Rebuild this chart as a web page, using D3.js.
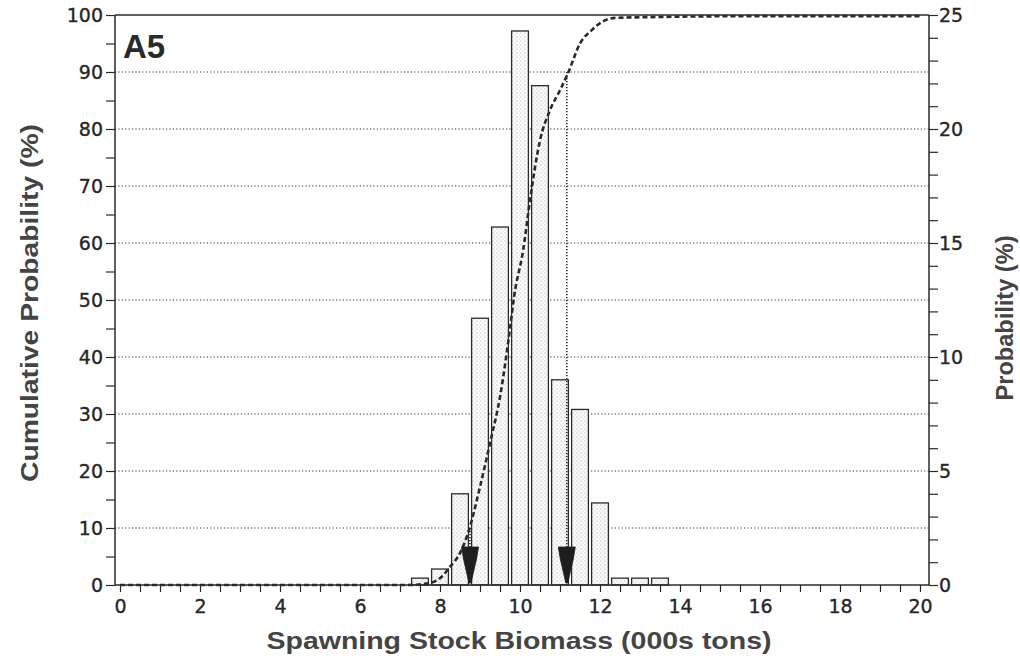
<!DOCTYPE html>
<html>
<head>
<meta charset="utf-8">
<script src="https://cdn.jsdelivr.net/npm/d3@7"></script>
<style>
  html, body { margin: 0; padding: 0; background: #fff; }
  svg { display: block; }
</style>
</head>
<body>
<svg id="chart" width="1020" height="660"></svg>
<script>
// ---------- data ----------
const binCenters = [7.5, 8, 8.5, 9, 9.5, 10, 10.5, 11, 11.5, 12, 12.5, 13, 13.5];
const binProbs   = [0.3, 0.7, 4.0, 11.7, 15.7, 24.3, 21.9, 9.0, 7.7, 3.6, 0.3, 0.3, 0.3];

const cumX = [0, 7.2, 7.6, 7.83, 8.05, 8.25, 8.5, 8.7, 9.0, 9.25, 9.5, 9.75, 9.85, 10.08, 10.25, 10.5, 10.75, 11.0, 11.2, 11.5, 11.8, 12.08, 12.4, 13, 16, 20];
const cumY = [0, 0, 0.2, 0.5, 1.5, 3.2, 5.6, 9.1, 17.2, 24.9, 33, 45, 50.5, 58.8, 67.5, 78, 83.3, 86.8, 89.8, 95, 97.4, 98.9, 99.5, 99.6, 99.8, 99.8];

const markerX = [8.75, 11.17];
const markerCum = [10, 90];

const xTicks = [0, 2, 4, 6, 8, 10, 12, 14, 16, 18, 20];
const leftTicks = [0, 10, 20, 30, 40, 50, 60, 70, 80, 90, 100];
const rightTicks = [0, 5, 10, 15, 20, 25];
const gridValues = [10, 20, 30, 40, 50, 60, 70, 80, 90];

const panelLabel = "A5";
const xTitle = "Spawning Stock Biomass (000s tons)";
const yLeftTitle = "Cumulative Probability (%)";
const yRightTitle = "Probability (%)";

// ---------- layout ----------
const svg = d3.select("#chart");
const frameL = 115, frameR = 929, frameT = 15, frameB = 585;
const ink = "#2a2a2a";
const textCol = "#262626";
const barWidthUnits = 0.42;

const x = d3.scaleLinear().domain([0, 20]).range([120, 920]);
const yL = d3.scaleLinear().domain([0, 100]).range([frameB, frameT]);
const yR = d3.scaleLinear().domain([0, 25]).range([frameB, frameT]);

// stipple pattern
const defs = svg.append("defs");
const pat = defs.append("pattern").attr("id", "stipple")
  .attr("patternUnits", "userSpaceOnUse").attr("width", 4).attr("height", 4);
pat.append("rect").attr("width", 4).attr("height", 4).attr("fill", "#fbfbfb");
pat.append("circle").attr("cx", 1).attr("cy", 1).attr("r", 0.6).attr("fill", "#a0a0a0");
pat.append("circle").attr("cx", 3).attr("cy", 3).attr("r", 0.55).attr("fill", "#c0c0c0");

// grid lines
svg.append("g").selectAll("line").data(gridValues).join("line")
  .attr("x1", frameL).attr("x2", frameR)
  .attr("y1", d => yL(d)).attr("y2", d => yL(d))
  .attr("stroke", "#333").attr("stroke-width", 1.1)
  .attr("stroke-dasharray", "1.2,2.2");

// bars
const bw = x(barWidthUnits) - x(0);
svg.append("g").selectAll("rect").data(binCenters).join("rect")
  .attr("x", (d) => x(d) - bw / 2)
  .attr("width", bw)
  .attr("y", (d, i) => yR(binProbs[i]))
  .attr("height", (d, i) => yR(0) - yR(binProbs[i]))
  .attr("fill", "url(#stipple)")
  .attr("stroke", ink).attr("stroke-width", 1.3);

// frame lines (top and bottom)
svg.append("line").attr("x1", frameL).attr("x2", frameR).attr("y1", frameT).attr("y2", frameT)
  .attr("stroke", ink).attr("stroke-width", 1.5);
svg.append("line").attr("x1", frameL).attr("x2", frameR).attr("y1", frameB).attr("y2", frameB)
  .attr("stroke", ink).attr("stroke-width", 1.5);

// axes
const fontTick = "'DejaVu Sans', sans-serif";
function styleTickText(sel) {
  sel.attr("font-family", fontTick).attr("font-size", 19)
    .attr("fill", textCol).attr("stroke", textCol).attr("stroke-width", 0.35);
}

const xAxis = d3.axisBottom(x)
  .tickValues(d3.range(0, 20.001, 0.5))
  .tickSize(7)
  .tickFormat(d => xTicks.includes(d) ? d3.format("d")(d) : "");
const gx = svg.append("g").attr("transform", `translate(0,${frameB})`).call(xAxis);
gx.select(".domain").remove();
gx.selectAll(".tick line").attr("stroke", ink).attr("stroke-width", 1.2);
gx.selectAll(".tick text").call(styleTickText).attr("dy", "0.95em");

const leftMinor = d3.range(0, 100.001, 5);
const gl = svg.append("g").attr("transform", `translate(${frameL},0)`)
  .call(d3.axisLeft(yL).tickValues(leftMinor).tickSize(9)
    .tickFormat(d => leftTicks.includes(d) ? d : ""));
gl.select(".domain").attr("stroke", ink).attr("stroke-width", 1.5).attr("d", `M0,${frameT}V${frameB}`);
gl.selectAll(".tick line").attr("stroke", ink).attr("stroke-width", 1.2);
gl.selectAll(".tick text").call(styleTickText).attr("x", -12);

const rightMinor = d3.range(0, 25.001, 1);
const gr = svg.append("g").attr("transform", `translate(${frameR},0)`)
  .call(d3.axisRight(yR).tickValues(rightMinor).tickSize(9)
    .tickFormat(d => rightTicks.includes(d) ? d : ""));
gr.select(".domain").attr("stroke", ink).attr("stroke-width", 1.5).attr("d", `M0,${frameT}V${frameB}`);
gr.selectAll(".tick line").attr("stroke", ink).attr("stroke-width", 1.2);
gr.selectAll(".tick text").call(styleTickText).attr("x", 10);

// cumulative curve
const cumData = cumX.map((v, i) => [v, cumY[i]]);
const line = d3.line().x(d => x(d[0])).y(d => yL(d[1])).curve(d3.curveMonotoneX);
svg.append("path").datum(cumData).attr("d", line)
  .attr("fill", "none").attr("stroke", ink).attr("stroke-width", 2.6)
  .attr("stroke-dasharray", "5,3");

// percentile markers
const triTop = 547, triBot = 583;
markerX.forEach((mx, i) => {
  const px = x(mx);
  svg.append("line").attr("x1", px).attr("x2", px)
    .attr("y1", yL(markerCum[i])).attr("y2", triTop)
    .attr("stroke", ink).attr("stroke-width", 1.6).attr("stroke-dasharray", "1.3,1.7");
  const pts = [[px - 8.5, triTop], [px + 8.5, triTop], [px + 6.5, triTop + 12], [px + 1, triBot], [px - 1, triBot], [px - 6.5, triTop + 12]];
  svg.append("path").attr("d", d3.line()(pts) + "Z").attr("fill", "#1e1e1e").attr("stroke", "#1e1e1e").attr("stroke-width", 0.8);
});

// texts
svg.append("text").attr("x", 123).attr("y", 58).text(panelLabel)
  .attr("font-family", "'Liberation Sans', Arial, sans-serif").attr("font-weight", "bold")
  .attr("font-size", 33).attr("fill", "#2a2a2a");

svg.append("text").attr("x", 519).attr("y", 649).attr("text-anchor", "middle").text(xTitle)
  .attr("font-family", "'Liberation Sans', Arial, sans-serif").attr("font-weight", "bold")
  .attr("font-size", 24).attr("fill", "#444")
  .attr("textLength", 505).attr("lengthAdjust", "spacingAndGlyphs");

svg.append("text").attr("transform", "translate(38,303) rotate(-90)").attr("text-anchor", "middle").text(yLeftTitle)
  .attr("font-family", "'Liberation Sans', Arial, sans-serif").attr("font-weight", "bold")
  .attr("font-size", 24).attr("fill", "#444")
  .attr("textLength", 358).attr("lengthAdjust", "spacingAndGlyphs");

svg.append("text").attr("transform", "translate(1013,318) rotate(-90)").attr("text-anchor", "middle").text(yRightTitle)
  .attr("font-family", "'Liberation Sans', Arial, sans-serif").attr("font-weight", "bold")
  .attr("font-size", 24).attr("fill", "#444")
  .attr("textLength", 165).attr("lengthAdjust", "spacingAndGlyphs");
</script>
</body>
</html>
